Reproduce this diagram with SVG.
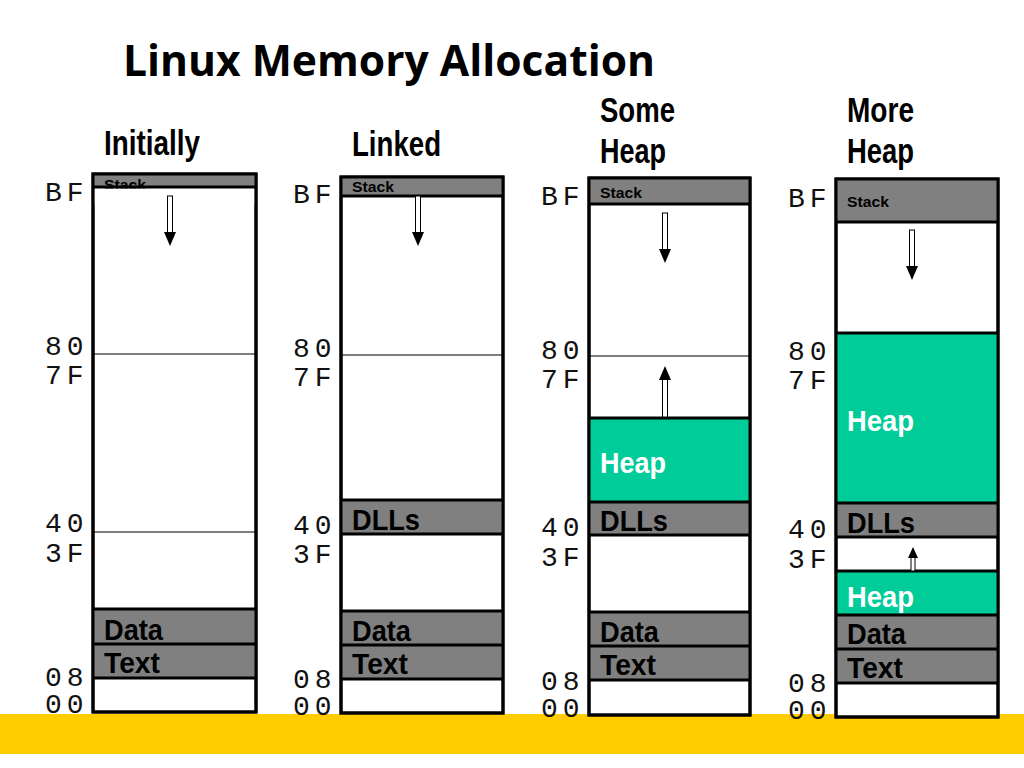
<svg xmlns="http://www.w3.org/2000/svg" width="1024" height="768" viewBox="0 0 1024 768">
<style>
.box{fill:#fff;stroke:#000;stroke-width:3}
.seg{stroke:#000;stroke-width:3}
.grey{fill:#808080}
.green{fill:#00CC99}
.thin{stroke:#000;stroke-width:1.2}
.hex{font-family:"Liberation Mono","Courier New",monospace;font-size:28px;letter-spacing:5px;fill:#111}
.head{font-family:"Liberation Sans",Arial,sans-serif;font-weight:bold;font-size:35px;fill:#000}
.lbl{font-family:"Liberation Sans",Arial,sans-serif;font-weight:bold;font-size:30px;fill:#000}
.wl{fill:#fff}
.stk{font-family:"Liberation Sans",Arial,sans-serif;font-weight:bold;font-size:15px;fill:#000}
.shaft{fill:#fff;stroke:#000;stroke-width:1}
</style>
<defs>
<g id="down">
<rect class="shaft" x="-2.5" y="0" width="5" height="37"/>
<polygon points="-6,36 6,36 0,50" fill="#000"/>
</g>
<g id="up">
<rect class="shaft" x="-2.5" y="13" width="5" height="38"/>
<polygon points="-6,14 6,14 0,0" fill="#000"/>
</g>
</defs>
<rect x="0" y="0" width="1024" height="768" fill="#fff"/>
<rect x="0" y="714" width="1024" height="40" fill="#FFCC00"/>
<text x="123" y="76" font-family="'Open Sans','Noto Sans',sans-serif" font-weight="bold" font-size="43" textLength="532" lengthAdjust="spacingAndGlyphs">Linux Memory Allocation</text>

<g id="col1">
<text class="head" x="104" y="155" textLength="96" lengthAdjust="spacingAndGlyphs">Initially</text>
<rect class="box" x="93" y="174" width="163" height="538"/>
<rect class="grey" x="94.5" y="175.5" width="160" height="12"/>
<text class="stk" x="104" y="190" textLength="42" lengthAdjust="spacingAndGlyphs">Stack</text>
<rect x="94.5" y="188.5" width="160" height="16" fill="#fff"/>
<line class="seg" x1="93" y1="187" x2="256" y2="187"/>
<line class="thin" x1="93" y1="354" x2="256" y2="354"/>
<line class="thin" x1="93" y1="532" x2="256" y2="532"/>
<rect class="grey" x="93" y="609" width="163" height="69"/>
<line class="seg" x1="93" y1="609" x2="256" y2="609"/>
<line class="seg" x1="93" y1="644" x2="256" y2="644"/>
<line class="seg" x1="93" y1="678" x2="256" y2="678"/>
<rect x="93" y="174" width="163" height="538" fill="none" stroke="#000" stroke-width="3"/>
<text class="lbl" x="104" y="640" textLength="59" lengthAdjust="spacingAndGlyphs">Data</text>
<text class="lbl" x="104" y="673" textLength="56" lengthAdjust="spacingAndGlyphs">Text</text>
<use href="#down" x="170" y="196"/>
<text class="hex" x="45" y="201">BF</text>
<text class="hex" x="45" y="355">80</text>
<text class="hex" x="45" y="384">7F</text>
<text class="hex" x="45" y="532">40</text>
<text class="hex" x="45" y="562">3F</text>
<text class="hex" x="45" y="686">08</text>
<text class="hex" x="45" y="713">00</text>
</g>

<g id="col2">
<text class="head" x="352" y="156" textLength="89" lengthAdjust="spacingAndGlyphs">Linked</text>
<rect class="box" x="341" y="177" width="162" height="536"/>
<rect class="grey" x="341" y="177" width="162" height="19"/>
<text class="stk" x="352" y="192" textLength="42" lengthAdjust="spacingAndGlyphs">Stack</text>
<line class="seg" x1="341" y1="196" x2="503" y2="196"/>
<line class="thin" x1="341" y1="355" x2="503" y2="355"/>
<rect class="grey" x="341" y="500" width="162" height="34"/>
<line class="seg" x1="341" y1="500" x2="503" y2="500"/>
<line class="seg" x1="341" y1="534" x2="503" y2="534"/>
<rect class="grey" x="341" y="611" width="162" height="68"/>
<line class="seg" x1="341" y1="611" x2="503" y2="611"/>
<line class="seg" x1="341" y1="645" x2="503" y2="645"/>
<line class="seg" x1="341" y1="679" x2="503" y2="679"/>
<rect x="341" y="177" width="162" height="536" fill="none" stroke="#000" stroke-width="3"/>
<text class="lbl" x="352" y="530" textLength="68" lengthAdjust="spacingAndGlyphs">DLLs</text>
<text class="lbl" x="352" y="641" textLength="59" lengthAdjust="spacingAndGlyphs">Data</text>
<text class="lbl" x="352" y="674" textLength="56" lengthAdjust="spacingAndGlyphs">Text</text>
<use href="#down" x="418" y="196"/>
<text class="hex" x="293" y="203">BF</text>
<text class="hex" x="293" y="357">80</text>
<text class="hex" x="293" y="386">7F</text>
<text class="hex" x="293" y="534">40</text>
<text class="hex" x="293" y="563">3F</text>
<text class="hex" x="293" y="688">08</text>
<text class="hex" x="293" y="715">00</text>
</g>

<g id="col3">
<text class="head" x="600" y="122" textLength="75" lengthAdjust="spacingAndGlyphs">Some</text>
<text class="head" x="600" y="163" textLength="66" lengthAdjust="spacingAndGlyphs">Heap</text>
<rect class="box" x="589" y="178" width="161" height="537"/>
<rect class="grey" x="589" y="178" width="161" height="26"/>
<text class="stk" x="600" y="198" font-size="16" textLength="42" lengthAdjust="spacingAndGlyphs">Stack</text>
<line class="seg" x1="589" y1="204" x2="750" y2="204"/>
<line class="thin" x1="589" y1="356" x2="750" y2="356"/>
<rect class="green" x="589" y="418" width="161" height="84"/>
<line class="seg" x1="589" y1="418" x2="750" y2="418"/>
<rect class="grey" x="589" y="502" width="161" height="33"/>
<line class="seg" x1="589" y1="502" x2="750" y2="502"/>
<line class="seg" x1="589" y1="535" x2="750" y2="535"/>
<rect class="grey" x="589" y="612" width="161" height="68"/>
<line class="seg" x1="589" y1="612" x2="750" y2="612"/>
<line class="seg" x1="589" y1="646" x2="750" y2="646"/>
<line class="seg" x1="589" y1="680" x2="750" y2="680"/>
<rect x="589" y="178" width="161" height="537" fill="none" stroke="#000" stroke-width="3"/>
<text class="lbl wl" x="600" y="473" textLength="66" lengthAdjust="spacingAndGlyphs">Heap</text>
<text class="lbl" x="600" y="531" textLength="68" lengthAdjust="spacingAndGlyphs">DLLs</text>
<text class="lbl" x="600" y="642" textLength="59" lengthAdjust="spacingAndGlyphs">Data</text>
<text class="lbl" x="600" y="675" textLength="56" lengthAdjust="spacingAndGlyphs">Text</text>
<use href="#down" x="665" y="213"/>
<use href="#up" x="665" y="366"/>
<text class="hex" x="541" y="205">BF</text>
<text class="hex" x="541" y="359">80</text>
<text class="hex" x="541" y="388">7F</text>
<text class="hex" x="541" y="536">40</text>
<text class="hex" x="541" y="566">3F</text>
<text class="hex" x="541" y="690">08</text>
<text class="hex" x="541" y="717">00</text>
</g>

<g id="col4">
<text class="head" x="847" y="122" textLength="67" lengthAdjust="spacingAndGlyphs">More</text>
<text class="head" x="847" y="163" textLength="67" lengthAdjust="spacingAndGlyphs">Heap</text>
<rect class="box" x="836" y="179" width="162" height="538"/>
<rect class="grey" x="836" y="179" width="162" height="43"/>
<text class="stk" x="847" y="207" font-size="16" textLength="42" lengthAdjust="spacingAndGlyphs">Stack</text>
<line class="seg" x1="836" y1="222" x2="998" y2="222"/>
<rect class="green" x="836" y="333" width="162" height="170"/>
<line class="seg" x1="836" y1="333" x2="998" y2="333"/>
<rect class="grey" x="836" y="503" width="162" height="34"/>
<line class="seg" x1="836" y1="503" x2="998" y2="503"/>
<line class="seg" x1="836" y1="537" x2="998" y2="537"/>
<rect class="green" x="836" y="571" width="162" height="44"/>
<line class="seg" x1="836" y1="571" x2="998" y2="571"/>
<rect class="grey" x="836" y="615" width="162" height="68"/>
<line class="seg" x1="836" y1="615" x2="998" y2="615"/>
<line class="seg" x1="836" y1="649" x2="998" y2="649"/>
<line class="seg" x1="836" y1="683" x2="998" y2="683"/>
<rect x="836" y="179" width="162" height="538" fill="none" stroke="#000" stroke-width="3"/>
<text class="lbl wl" x="847" y="431" textLength="67" lengthAdjust="spacingAndGlyphs">Heap</text>
<text class="lbl" x="847" y="533" textLength="68" lengthAdjust="spacingAndGlyphs">DLLs</text>
<text class="lbl wl" x="847" y="607" textLength="67" lengthAdjust="spacingAndGlyphs">Heap</text>
<text class="lbl" x="847" y="644" textLength="59" lengthAdjust="spacingAndGlyphs">Data</text>
<text class="lbl" x="847" y="678" textLength="56" lengthAdjust="spacingAndGlyphs">Text</text>
<use href="#down" x="912" y="230"/>
<g transform="translate(913,547)">
<rect class="shaft" x="-2" y="9" width="4" height="15"/>
<polygon points="-5,11 5,11 0,0" fill="#000"/>
</g>
<text class="hex" x="788" y="207">BF</text>
<text class="hex" x="788" y="360">80</text>
<text class="hex" x="788" y="389">7F</text>
<text class="hex" x="788" y="538">40</text>
<text class="hex" x="788" y="568">3F</text>
<text class="hex" x="788" y="692">08</text>
<text class="hex" x="788" y="719">00</text>
</g>
</svg>
